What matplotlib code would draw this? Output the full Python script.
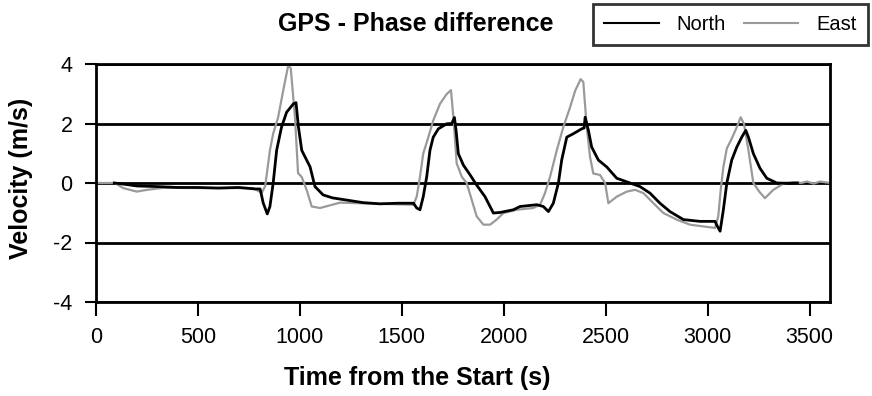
import numpy as np
import matplotlib.pyplot as plt

plt.rcParams['font.family'] = ['Liberation Sans', 'DejaVu Sans']
plt.rcParams['axes.unicode_minus'] = False

#%%==============================================================================
# Data (time in s, velocity in m/s)

north_t = [90, 150, 200, 300, 400, 500, 600, 700, 780, 805, 820, 840, 853, 869, 886,
           910, 935, 968, 981, 993, 1009, 1050, 1074, 1114, 1160, 1197, 1310, 1393,
           1480, 1557, 1573, 1589, 1605, 1622, 1638, 1654, 1679, 1720, 1745, 1758,
           1766, 1777, 1802, 1835, 1867, 1908, 1949, 1982, 2047, 2080, 2162, 2194,
           2219, 2243, 2268, 2284, 2309, 2342, 2382, 2394, 2399, 2415, 2431, 2464,
           2505, 2554, 2603, 2668, 2717, 2766, 2815, 2881, 2963, 3036, 3048, 3061,
           3077, 3094, 3118, 3143, 3167, 3187, 3200, 3224, 3257, 3290, 3339, 3404, 3440]
north_v = [0.0, -0.05, -0.1, -0.12, -0.15, -0.15, -0.17, -0.15, -0.2, -0.2, -0.67,
           -1.04, -0.79, 0.0, 1.1, 1.88, 2.38, 2.66, 2.7, 1.88, 1.1, 0.54, -0.12,
           -0.4, -0.5, -0.54, -0.66, -0.7, -0.68, -0.68, -0.84, -0.9, -0.46, 0.21,
           1.1, 1.54, 1.82, 1.99, 2.0, 2.2, 1.77, 0.99, 0.6, 0.27, -0.07, -0.46,
           -1.01, -0.99, -0.9, -0.79, -0.73, -0.79, -0.96, -0.68, 0.0, 0.77, 1.54,
           1.66, 1.82, 1.85, 2.21, 1.77, 1.21, 0.77, 0.54, 0.16, 0.04, -0.12, -0.34,
           -0.68, -0.96, -1.23, -1.29, -1.29, -1.46, -1.62, -0.9, 0.0, 0.77, 1.21,
           1.54, 1.77, 1.54, 0.99, 0.49, 0.16, 0.0, -0.01, 0.0]

east_t = [10, 93, 133, 200, 250, 330, 495, 657, 770, 813, 830, 853, 869, 893, 918,
          942, 955, 976, 991, 1009, 1033, 1058, 1099, 1197, 1393, 1557, 1573, 1589,
          1605, 1630, 1654, 1687, 1720, 1741, 1753, 1769, 1794, 1818, 1843, 1867,
          1900, 1933, 1965, 1998, 2063, 2145, 2178, 2202, 2227, 2260, 2292, 2325,
          2350, 2377, 2390, 2407, 2423, 2439, 2472, 2497, 2513, 2554, 2603, 2644,
          2685, 2734, 2783, 2848, 2913, 2979, 3036, 3052, 3064, 3077, 3094, 3118,
          3143, 3162, 3178, 3200, 3224, 3253, 3281, 3322, 3371, 3420, 3460, 3486,
          3520, 3551, 3600]
east_v = [0.0, 0.0, -0.17, -0.29, -0.23, -0.16, -0.17, -0.17, -0.17, -0.33, -0.1,
          1.1, 1.66, 2.2, 3.1, 3.93, 3.87, 2.2, 0.33, 0.2, -0.23, -0.79, -0.84,
          -0.66, -0.7, -0.73, -0.46, 0.21, 0.99, 1.54, 2.1, 2.66, 2.99, 3.12, 2.21,
          0.66, 0.21, 0.0, -0.57, -1.12, -1.4, -1.4, -1.23, -1.01, -0.9, -0.84,
          -0.73, -0.34, 0.21, 1.1, 1.88, 2.54, 3.1, 3.49, 3.4, 1.88, 0.88, 0.32,
          0.27, 0.0, -0.68, -0.46, -0.29, -0.23, -0.34, -0.68, -1.01, -1.23, -1.4,
          -1.46, -1.51, -1.12, -0.23, 0.54, 1.16, 1.49, 1.88, 2.21, 1.99, 1.1, 0.0,
          -0.29, -0.51, -0.23, -0.02, 0.03, 0.0, 0.05, -0.02, 0.05, 0.0]

x_ticks = [0, 500, 1000, 1500, 2000, 2500, 3000, 3500]
y_ticks = [-4, -2, 0, 2, 4]

#%%==============================================================================
# Plot

fig = plt.figure(figsize=(8.72, 3.96), dpi=100)
ax = fig.add_axes([96/872, 1 - 302/396, (830 - 96)/872, (302 - 64)/396])

for yv in y_ticks:
    ax.axhline(yv, color='black', lw=2, zorder=1)

ax.plot(north_t, north_v, color='black', lw=2, label='North', zorder=3)
ax.plot(east_t, east_v, color='#9a9a9a', lw=1.6, label='East', zorder=2)

ax.set_xlim(0, 3600)
ax.set_ylim(-4, 4)
ax.set_xticks(x_ticks)
ax.set_yticks(y_ticks)
ax.tick_params(axis='x', direction='out', length=10, width=1.5, labelsize=15.5, pad=8)
ax.tick_params(axis='y', direction='out', length=8, width=1.5, labelsize=15.5, pad=9)
for s in ax.spines.values():
    s.set_linewidth(2)

fig.text(416/872, 1 - 24/396, 'GPS - Phase difference', ha='center', va='center',
         fontsize=18, fontweight='bold')
fig.text(417/872, 1 - 378/396, 'Time from the Start (s)', ha='center', va='center',
         fontsize=18, fontweight='bold')
fig.text(21/872, 1 - 178/396, 'Velocity (m/s)', ha='center', va='center',
         fontsize=18, fontweight='bold', rotation=90)

leg = ax.legend(loc='upper right', bbox_to_anchor=(868/872, 1 - 4/396),
                bbox_transform=fig.transFigure, ncol=2, fontsize=14.5,
                frameon=True, fancybox=False, handlelength=2.7, handletextpad=0.9,
                columnspacing=0.9, borderpad=0.55, borderaxespad=0)
leg.get_frame().set_edgecolor('black')
leg.get_frame().set_linewidth(2)
for h in leg.get_lines():
    h.set_linewidth(1.5)

plt.savefig('out.png', dpi=100)
